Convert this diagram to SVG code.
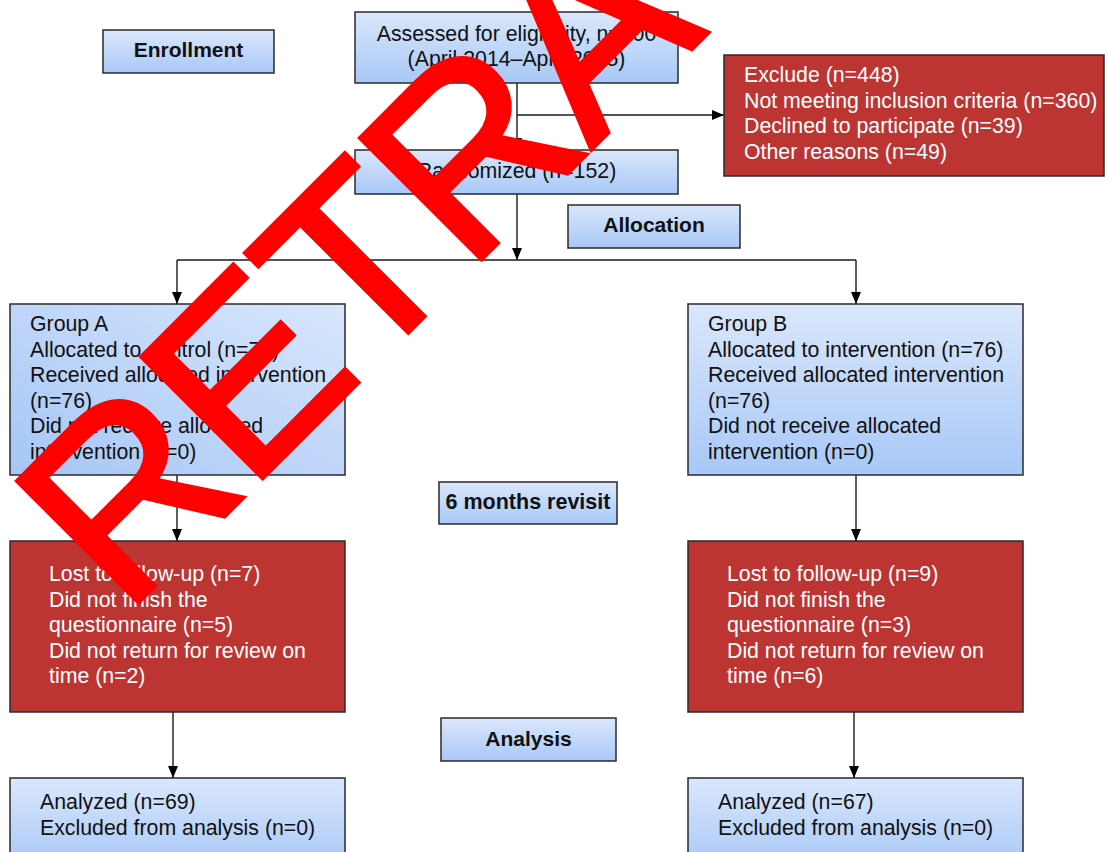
<svg xmlns="http://www.w3.org/2000/svg" width="1106" height="852" viewBox="0 0 1106 852">
<defs>
<linearGradient id="gv" x1="0" y1="0" x2="0" y2="1">
<stop offset="0" stop-color="#dae7fc"/>
<stop offset="1" stop-color="#a8c8f7"/>
</linearGradient>
<linearGradient id="gd" x1="1" y1="0" x2="0" y2="1">
<stop offset="0" stop-color="#d8e6fc"/>
<stop offset="1" stop-color="#a6c6f6"/>
</linearGradient>
<marker id="ah" viewBox="0 0 12 10" refX="12" refY="5" markerWidth="12" markerHeight="10" markerUnits="userSpaceOnUse" orient="auto">
<path d="M0,0 L12,5 L0,10 Z" fill="#000"/>
</marker>
<style>
.bx{fill:url(#gv);stroke:#2a2a2a;stroke-width:1.5}
.bd{fill:url(#gd);stroke:#2a2a2a;stroke-width:1.5}
.rd{fill:#bc3533;stroke:#2a2a2a;stroke-width:1.5}
.t{font-family:"Liberation Sans",Arial,sans-serif;font-size:21.3px;fill:#111}
.w{font-family:"Liberation Sans",Arial,sans-serif;font-size:21.3px;fill:#fff}
.h{font-family:"Liberation Sans",Arial,sans-serif;font-size:21px;font-weight:bold;fill:#111;text-anchor:middle}
.c{text-anchor:middle}
.ln{fill:none;stroke:#1a1a1a;stroke-width:1.4}
.wm{font-family:"Liberation Sans",Arial,sans-serif;font-size:250px;letter-spacing:-5px;fill:#ff0000;stroke:#ff0000;stroke-width:4}
</style>
</defs>
<rect width="1106" height="852" fill="#fff"/>

<g id="connectors">
<path class="ln" d="M517,83 V150" marker-end="url(#ah)"/>
<path class="ln" d="M517,115 H724" marker-end="url(#ah)"/>
<path class="ln" d="M517,194 V260" marker-end="url(#ah)"/>
<path class="ln" d="M177,260 H856"/>
<path class="ln" d="M177,260 V304" marker-end="url(#ah)"/>
<path class="ln" d="M856,260 V304" marker-end="url(#ah)"/>
<path class="ln" d="M177,475 V541" marker-end="url(#ah)"/>
<path class="ln" d="M856,475 V541" marker-end="url(#ah)"/>
<path class="ln" d="M173,712 V778" marker-end="url(#ah)"/>
<path class="ln" d="M854,712 V778" marker-end="url(#ah)"/>
</g>

<g id="enrollment">
<rect class="bx" x="103" y="30" width="171" height="43"/>
<text class="h" x="188.5" y="57">Enrollment</text>
</g>

<g id="assessed">
<rect class="bx" x="355" y="12" width="323" height="71"/>
<text class="t c" x="516.5" y="41">Assessed for eligibility, n=600</text>
<text class="t c" x="516.5" y="66">(April 2014–April 2015)</text>
</g>

<g id="exclude">
<rect class="rd" x="724" y="55" width="380" height="121"/>
<text class="w" x="744" y="82">Exclude (n=448)</text>
<text class="w" x="744" y="107.5">Not meeting inclusion criteria (n=360)</text>
<text class="w" x="744" y="133">Declined to participate (n=39)</text>
<text class="w" x="744" y="158.5">Other reasons (n=49)</text>
</g>

<g id="randomized">
<rect class="bx" x="355" y="150" width="323" height="44"/>
<text class="t c" x="516.5" y="178">Randomized (n=152)</text>
</g>

<g id="allocation">
<rect class="bx" x="568" y="205" width="172" height="43"/>
<text class="h" x="654" y="232">Allocation</text>
</g>

<g id="groupA">
<rect class="bd" x="10" y="304" width="335" height="171"/>
<text class="t" x="30" y="331">Group A</text>
<text class="t" x="30" y="356.5">Allocated to control (n=76)</text>
<text class="t" x="30" y="382">Received allocated intervention</text>
<text class="t" x="30" y="407.5">(n=76)</text>
<text class="t" x="30" y="433">Did not receive allocated</text>
<text class="t" x="30" y="458.5">intervention (n=0)</text>
</g>

<g id="groupB">
<rect class="bx" x="688" y="304" width="335" height="171"/>
<text class="t" x="708" y="331">Group B</text>
<text class="t" x="708" y="356.5">Allocated to intervention (n=76)</text>
<text class="t" x="708" y="382">Received allocated intervention</text>
<text class="t" x="708" y="407.5">(n=76)</text>
<text class="t" x="708" y="433">Did not receive allocated</text>
<text class="t" x="708" y="458.5">intervention (n=0)</text>
</g>

<g id="revisit">
<rect class="bx" x="439" y="482" width="178" height="42"/>
<text class="h" x="528" y="509" style="font-size:21.5px">6 months revisit</text>
</g>

<g id="lostA">
<rect class="rd" x="10" y="541" width="335" height="171"/>
<text class="w" x="49" y="581">Lost to follow-up (n=7)</text>
<text class="w" x="49" y="606.5">Did not finish the</text>
<text class="w" x="49" y="632">questionnaire (n=5)</text>
<text class="w" x="49" y="657.5">Did not return for review on</text>
<text class="w" x="49" y="683">time (n=2)</text>
</g>

<g id="lostB">
<rect class="rd" x="688" y="541" width="335" height="171"/>
<text class="w" x="727" y="581">Lost to follow-up (n=9)</text>
<text class="w" x="727" y="606.5">Did not finish the</text>
<text class="w" x="727" y="632">questionnaire (n=3)</text>
<text class="w" x="727" y="657.5">Did not return for review on</text>
<text class="w" x="727" y="683">time (n=6)</text>
</g>

<g id="analysis">
<rect class="bx" x="441" y="718" width="175" height="43"/>
<text class="h" x="528.5" y="746">Analysis</text>
</g>

<g id="analyzedA">
<rect class="bx" x="10" y="778" width="335" height="90"/>
<text class="t" x="40" y="809">Analyzed (n=69)</text>
<text class="t" x="40" y="834.5">Excluded from analysis (n=0)</text>
</g>

<g id="analyzedB">
<rect class="bx" x="688" y="778" width="335" height="90"/>
<text class="t" x="718" y="809">Analyzed (n=67)</text>
<text class="t" x="718" y="834.5">Excluded from analysis (n=0)</text>
</g>

<g id="watermark">
<text class="wm" transform="translate(124,617) rotate(-45)">RETRACTED</text>
</g>
</svg>
